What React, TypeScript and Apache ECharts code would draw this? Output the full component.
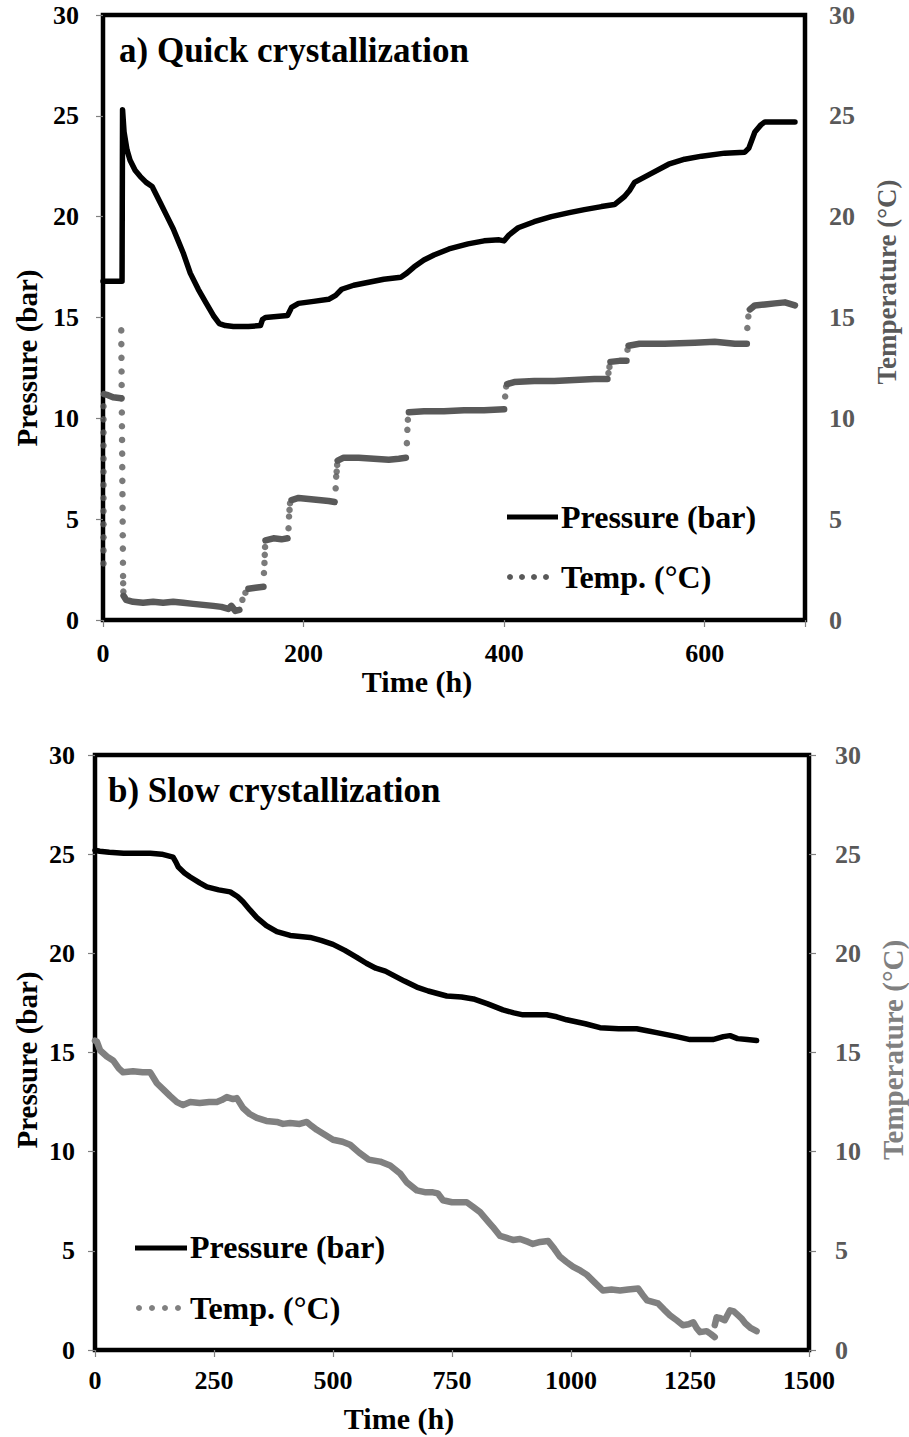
import React, { useEffect, useRef } from "react";
import * as echarts from "echarts";

// ---------- data (time in h, value) ----------
const topPressure: [number, number][] = [
  [0, 16.8], [18, 16.8], [19, 16.8], [19.5, 25.3], [21, 24.2], [24, 23.3], [27, 22.8], [32, 22.3],
  [37, 22.0], [43, 21.7], [49, 21.5], [53, 21.1], [57, 20.7], [63, 20.1], [70, 19.4], [75, 18.8],
  [80, 18.2], [87, 17.2], [95, 16.4], [103, 15.7], [110, 15.1], [116, 14.7], [122, 14.6], [130, 14.55],
  [145, 14.55], [157, 14.6], [159, 14.9], [162, 15.0], [184, 15.1], [188, 15.5], [195, 15.7], [210, 15.8],
  [225, 15.9], [232, 16.1], [238, 16.4], [250, 16.6], [265, 16.75], [280, 16.9], [297, 17.0], [303, 17.2],
  [310, 17.5], [320, 17.85], [330, 18.1], [345, 18.4], [364, 18.65], [380, 18.8], [395, 18.85], [400, 18.8],
  [405, 19.1], [414, 19.45], [430, 19.75], [447, 20.0], [465, 20.2], [480, 20.35], [497, 20.5], [510, 20.6],
  [520, 21.0], [525, 21.3], [530, 21.7], [545, 22.1], [564, 22.6], [580, 22.85], [597, 23.0], [620, 23.15],
  [640, 23.2], [644, 23.4], [650, 24.2], [656, 24.55], [660, 24.7], [690, 24.7],
];

// plateaus of the quick-crystallization temperature (dense, overlapping samples)
const topTempPlateaus: ([number, number] | string)[] = [
  [1, 11.2], [5, 11.15], [10, 11.05], [18, 11.0], "-",
  [20.5, 1.2], [23, 1.0], [30, 0.9], [40, 0.85], [50, 0.9], [60, 0.85], [70, 0.9], [80, 0.85],
  [90, 0.8], [100, 0.75], [110, 0.7], [118, 0.65], [125, 0.55], [128, 0.7], [132, 0.45], [136, 0.5], "-",
  [145, 1.55], [152, 1.6], [160, 1.65], "-",
  [162, 3.95], [170, 4.05], [178, 4.0], [184, 4.05], "-",
  [188, 5.95], [195, 6.05], [205, 6.0], [215, 5.95], [225, 5.9], [231, 5.85], "-",
  [234, 7.9], [240, 8.05], [255, 8.05], [270, 8.0], [285, 7.95], [295, 8.0], [302, 8.05], "-",
  [305, 10.3], [320, 10.35], [340, 10.35], [360, 10.4], [380, 10.4], [400, 10.45], "-",
  [403, 11.7], [410, 11.8], [430, 11.85], [450, 11.85], [470, 11.9], [490, 11.95], [503, 11.95], "-",
  [506, 12.8], [515, 12.85], [522, 12.85], "-",
  [524, 13.6], [535, 13.7], [560, 13.7], [590, 13.75], [610, 13.8], [630, 13.7], [642, 13.7], "-",
  [645, 15.4], [650, 15.6], [660, 15.65], [670, 15.7], [680, 15.75], [690, 15.6],
];

// isolated samples during the temperature transitions
const topTempDots: [number, number][] = [
  [0.5, 2.8], [0.5, 3.45], [0.5, 4.1], [0.5, 4.75], [0.5, 5.4], [0.5, 6.05], [0.5, 6.7], [0.5, 7.35],
  [0.5, 8.0], [0.5, 8.65], [0.5, 9.3], [0.5, 9.95], [0.5, 10.6],
  [18.2, 14.36], [18.3, 13.68], [18.4, 13.0], [18.5, 12.32], [18.6, 11.65], [18.7, 10.99], [18.8, 10.29],
  [18.9, 9.61], [19.0, 8.93], [19.1, 8.25], [19.2, 7.58], [19.3, 6.9], [19.4, 6.24], [19.5, 5.56],
  [19.6, 4.88], [19.7, 4.2], [19.8, 3.54], [19.9, 2.84], [20.0, 2.18], [20.1, 1.82], [20.3, 1.41],
  [139, 1.0], [142, 1.35],
  [160.5, 2.33], [161, 2.83], [161.3, 3.23], [161.6, 3.62],
  [185, 4.55], [185.5, 5.13], [186, 5.46], [186.5, 5.79],
  [232, 6.53], [232.5, 7.11], [233, 7.36], [233.5, 7.69],
  [303, 8.77], [303.5, 9.43], [304, 9.93],
  [401, 11.08], [402, 11.58],
  [504, 12.25], [505, 12.55],
  [523, 13.4],
  [642.5, 14.48], [643.5, 15.05],
];

const bottomPressure: [number, number][] = [
  [0, 25.2], [10, 25.15], [30, 25.1], [60, 25.05], [90, 25.05], [116, 25.05], [140, 25.0], [164, 24.85],
  [170, 24.6], [175, 24.35], [188, 24.05], [200, 23.85], [220, 23.55], [235, 23.35], [260, 23.2], [284, 23.1],
  [300, 22.85], [311, 22.6], [325, 22.2], [340, 21.8], [360, 21.4], [382, 21.1], [410, 20.9], [452, 20.8],
  [475, 20.65], [500, 20.45], [525, 20.15], [550, 19.8], [570, 19.5], [590, 19.25], [610, 19.1], [626, 18.9],
  [650, 18.6], [676, 18.3], [700, 18.1], [739, 17.85], [770, 17.8], [795, 17.7], [825, 17.45], [857, 17.15],
  [880, 17.0], [899, 16.9], [949, 16.9], [970, 16.8], [991, 16.65], [1030, 16.45], [1061, 16.25], [1100, 16.2],
  [1138, 16.2], [1160, 16.1], [1180, 16.0], [1222, 15.8], [1250, 15.65], [1298, 15.65], [1320, 15.8],
  [1334, 15.85], [1350, 15.7], [1370, 15.65], [1390, 15.6],
];

const bottomTemp: ([number, number] | string)[] = [
  [0, 15.6], [4, 15.55], [11, 15.1], [25, 14.8], [38, 14.6], [50, 14.2], [59, 14.0], [80, 14.05], [100, 14.0],
  [116, 14.0], [130, 13.45], [145, 13.1], [158, 12.8], [172, 12.5], [185, 12.35], [200, 12.5], [220, 12.45],
  [240, 12.5], [256, 12.5], [266, 12.6], [277, 12.75], [290, 12.65], [298, 12.7], [311, 12.2], [325, 11.9],
  [340, 11.7], [360, 11.55], [382, 11.5], [395, 11.4], [410, 11.45], [430, 11.4], [445, 11.5], [455, 11.3],
  [466, 11.1], [483, 10.85], [500, 10.6], [520, 10.5], [536, 10.35], [555, 9.95], [575, 9.6], [599, 9.5],
  [620, 9.3], [641, 8.9], [655, 8.45], [676, 8.05], [695, 7.95], [710, 7.95], [720, 7.9], [731, 7.55],
  [750, 7.45], [781, 7.45], [795, 7.2], [809, 6.95], [825, 6.5], [836, 6.2], [851, 5.75], [865, 5.65],
  [878, 5.55], [893, 5.6], [910, 5.45], [920, 5.35], [935, 5.45], [952, 5.5], [965, 5.1], [977, 4.7],
  [990, 4.45], [1004, 4.2], [1020, 4.0], [1033, 3.8], [1050, 3.4], [1067, 3.0], [1085, 3.05], [1103, 3.0],
  [1120, 3.05], [1141, 3.1], [1150, 2.8], [1160, 2.5], [1183, 2.35], [1195, 2.05], [1208, 1.75], [1222, 1.5],
  [1235, 1.25], [1247, 1.3], [1257, 1.4], [1264, 1.1], [1271, 0.9], [1285, 0.95], [1294, 0.8], [1302, 0.65], "-",
  [1302, 1.25], [1306, 1.65], [1314, 1.6], [1323, 1.5], [1334, 2.0], [1342, 1.95], [1349, 1.8], [1358, 1.6],
  [1366, 1.35], [1378, 1.1], [1390, 0.95],
];

const yTickInterval = 5;
const topTimeTicks = 200;
const bottomTimeTicks = 250;

const FONT = "'Liberation Serif', 'Times New Roman', serif";
const GRAY_DARK = "#595959";
const GRAY_LIGHT = "#808080";

export default function App() {
  const ref = useRef<HTMLDivElement>(null);

  useEffect(() => {
    if (!ref.current) return;
    const chart = echarts.init(ref.current, undefined, { renderer: "svg" });

    const leftLabel = (margin: number) => ({
      fontFamily: FONT, fontWeight: "bold" as const, fontSize: 26, color: "#000", margin,
    });
    const rightLabel = (margin: number) => ({
      fontFamily: FONT, fontWeight: "bold" as const, fontSize: 26, color: GRAY_DARK, margin,
    });
    const tick = { show: true, inside: false, length: 7, lineStyle: { color: "#808080", width: 1.2 } };

    const yBase = {
      type: "value" as const, min: 0, max: 30, interval: yTickInterval,
      splitLine: { show: false }, axisLine: { show: false },
    };

    const titleText = (x: number, y: number, text: string, size: number, color = "#000") => ({
      type: "text", x, y,
      style: { text, fontFamily: FONT, fontWeight: "bold", fontSize: size, fill: color, verticalAlign: "middle", align: "left" },
    });
    const vText = (x: number, y: number, text: string, color: string, size = 29) => ({
      type: "text", x, y, rotation: Math.PI / 2,
      style: { text, fontFamily: FONT, fontWeight: "bold", fontSize: size, fill: color, align: "center", verticalAlign: "middle" },
    });
    const hText = (x: number, y: number, text: string) => ({
      type: "text", x, y,
      style: { text, fontFamily: FONT, fontWeight: "bold", fontSize: 30, fill: "#000", align: "center", verticalAlign: "middle" },
    });
    const dot = (x: number, y: number, color: string) => ({
      type: "circle", shape: { cx: x, cy: y, r: 3 }, style: { fill: color },
    });

    chart.setOption({
      animation: false,
      backgroundColor: "#fff",
      grid: [
        { left: 103, right: 104, top: 15, height: 605, show: true, borderColor: "#000", borderWidth: 4.5, backgroundColor: "transparent" },
        { left: 95, right: 100, top: 755, height: 595, show: true, borderColor: "#000", borderWidth: 4.5, backgroundColor: "transparent" },
      ],
      xAxis: [
        {
          type: "value", gridIndex: 0, min: 0, max: 700, interval: topTimeTicks,
          splitLine: { show: false }, axisLine: { show: false }, axisTick: tick,
          axisLabel: { ...leftLabel(20), formatter: (v: number) => (v === 700 ? "" : String(v)) },
        },
        {
          type: "value", gridIndex: 1, min: 0, max: 1500, interval: bottomTimeTicks,
          splitLine: { show: false }, axisLine: { show: false }, axisTick: tick,
          axisLabel: { ...leftLabel(17), formatter: (v: number) => String(v) },
        },
      ],
      yAxis: [
        { ...yBase, gridIndex: 0, position: "left", axisTick: tick, axisLabel: leftLabel(24) },
        { ...yBase, gridIndex: 0, position: "right", axisTick: { show: false }, axisLabel: rightLabel(24) },
        { ...yBase, gridIndex: 1, position: "left", axisTick: tick, axisLabel: leftLabel(20) },
        { ...yBase, gridIndex: 1, position: "right", axisTick: tick, axisLabel: rightLabel(26) },
      ],
      series: [
        {
          name: "Pressure (bar)", type: "line", xAxisIndex: 0, yAxisIndex: 0, data: topPressure,
          showSymbol: false, lineStyle: { color: "#000", width: 5.5, join: "round", cap: "round" }, z: 3,
        },
        {
          name: "Temp. (°C)", type: "line", xAxisIndex: 0, yAxisIndex: 1, data: topTempPlateaus,
          showSymbol: false, connectNulls: false,
          lineStyle: { color: GRAY_DARK, width: 6.5, join: "round", cap: "round" }, z: 2,
        },
        {
          name: "Temp. (°C) samples", type: "scatter", xAxisIndex: 0, yAxisIndex: 1, data: topTempDots,
          symbol: "circle", symbolSize: 6.5, itemStyle: { color: GRAY_DARK }, z: 2,
        },
        {
          name: "Pressure (bar) b", type: "line", xAxisIndex: 1, yAxisIndex: 2, data: bottomPressure,
          showSymbol: false, lineStyle: { color: "#000", width: 5.5, join: "round", cap: "round" }, z: 3,
        },
        {
          name: "Temp. (°C) b", type: "line", xAxisIndex: 1, yAxisIndex: 3, data: bottomTemp,
          showSymbol: false, connectNulls: false,
          lineStyle: { color: GRAY_LIGHT, width: 6.5, join: "round", cap: "round" }, z: 2,
        },
      ],
      graphic: [
        titleText(119, 50, "a) Quick crystallization", 35),
        titleText(108, 790, "b) Slow crystallization", 35),
        // axis names
        vText(27, 358, "Pressure (bar)", "#000"),
        vText(887, 282, "Temperature (°C)", GRAY_DARK, 27),
        hText(417, 681, "Time (h)"),
        vText(27, 1060, "Pressure (bar)", "#000"),
        vText(893, 1050, "Temperature (°C)", GRAY_LIGHT, 29),
        hText(399, 1418, "Time (h)"),
        // legend a
        { type: "line", shape: { x1: 507, y1: 517, x2: 558, y2: 517 }, style: { stroke: "#000", lineWidth: 5 } },
        titleText(561, 517, "Pressure (bar)", 32),
        dot(510, 577, GRAY_DARK), dot(522, 577, GRAY_DARK), dot(534, 577, GRAY_DARK), dot(546, 577, GRAY_DARK),
        titleText(561, 577, "Temp. (°C)", 32),
        // legend b
        { type: "line", shape: { x1: 135, y1: 1248, x2: 187, y2: 1248 }, style: { stroke: "#000", lineWidth: 5 } },
        titleText(190, 1247, "Pressure (bar)", 32),
        dot(139, 1308, GRAY_LIGHT), dot(152, 1308, GRAY_LIGHT), dot(165, 1308, GRAY_LIGHT), dot(178, 1308, GRAY_LIGHT),
        titleText(190, 1308, "Temp. (°C)", 32),
      ],
    });

    return () => chart.dispose();
  }, []);

  return <div ref={ref} style={{ position: "absolute", left: 0, top: 0, width: 909, height: 1437 }} />;
}
